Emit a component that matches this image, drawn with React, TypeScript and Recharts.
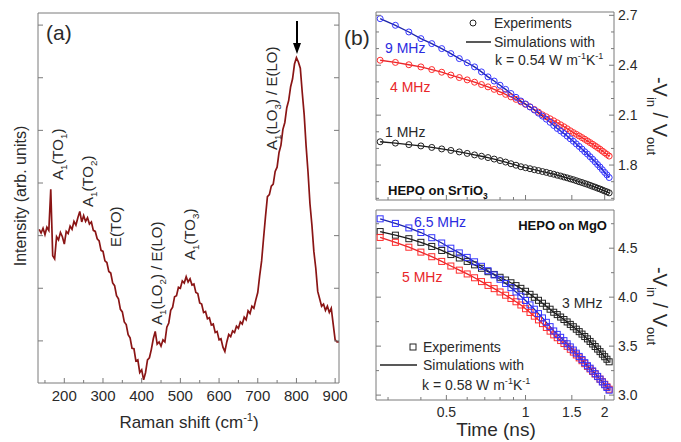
import React from 'react';
import { LineChart, ComposedChart, Line, XAxis, YAxis } from 'recharts';

const FONT = '"Liberation Sans", Arial, Helvetica, sans-serif';
const FRAME = '#7a7a7a';
const TXT = '#2a2a2a';
const BLUE = '#2b2be0';
const RED = '#e8262a';
const BLACK = '#1a1a1a';

// ---------- (a) Raman spectrum ----------
const ramanShift = [
  135, 140, 145, 150, 155, 160, 165, 170, 175, 180,
  185, 190, 195, 200, 205, 210, 215, 220, 225, 230,
  235, 240, 245, 250, 255, 260, 265, 270, 275, 280,
  285, 290, 295, 300, 305, 310, 315, 320, 325, 330,
  335, 340, 345, 350, 355, 360, 365, 370, 375, 380,
  385, 390, 395, 400, 405, 410, 415, 420, 425, 430,
  435, 440, 445, 450, 455, 460, 465, 470, 475, 480,
  485, 490, 495, 500, 505, 510, 515, 520, 525, 530,
  535, 540, 545, 550, 555, 560, 565, 570, 575, 580,
  585, 590, 595, 600, 605, 610, 615, 620, 625, 630,
  635, 640, 645, 650, 655, 660, 665, 670, 675, 680,
  685, 690, 695, 700, 705, 710, 715, 720, 725, 730,
  735, 740, 745, 750, 755, 760, 765, 770, 775, 780,
  785, 790, 795, 800, 805, 810, 815, 820, 825, 830,
  835, 840, 845, 850, 855, 860, 865, 870, 875, 880,
  885, 890, 895, 900, 905, 910,
];
const ramanIntensity = [
  2.12, 2.05, 2.14, 2.02, 2.16, 2.10, 2.88, 1.62, 1.56, 1.98,
  1.92, 2.06, 1.98, 1.84, 2.08, 2.04, 2.18, 2.12, 2.27, 2.20,
  2.34, 2.46, 2.26, 2.38, 2.27, 2.34, 2.22, 2.26, 2.10, 2.08,
  1.94, 1.90, 1.72, 1.70, 1.52, 1.49, 1.32, 1.29, 1.10, 1.05,
  0.86, 0.80, 0.60, 0.55, 0.36, 0.31, 0.12, 0.06, -0.14, -0.15,
  -0.38, -0.36, -0.60, -0.55, -0.74, -0.60, -0.36, -0.32, -0.16, 0.04,
  0.18, -0.06, -0.02, -0.10, 0.02, -0.02, 0.26, 0.34, 0.58, 0.64,
  0.84, 0.86, 1.02, 1.00, 1.14, 1.10, 1.22, 1.12, 1.18, 1.06,
  1.08, 0.92, 0.90, 0.72, 0.70, 0.54, 0.56, 0.42, 0.44, 0.30,
  0.32, 0.16, 0.18, 0.02, 0.04, -0.12, -0.20, -0.02, 0.12, 0.08,
  0.19, 0.16, 0.28, 0.24, 0.36, 0.32, 0.45, 0.40, 0.57, 0.52,
  0.66, 0.62, 0.78, 0.92, 1.24, 1.52, 1.95, 2.36, 2.74, 2.78,
  2.94, 2.98, 3.22, 3.30, 3.58, 3.72, 4.02, 4.15, 4.43, 4.57,
  4.83, 4.98, 5.26, 5.38, 5.30, 5.18, 4.72, 4.30, 3.70, 3.20,
  2.60, 2.20, 1.70, 1.38, 0.94, 0.80, 0.66, 0.70, 0.58, 0.66,
  0.54, 0.62, 0.32, 0.02, -0.02, -0.02,
];
const ramanTicks = [150, 200, 250, 300, 350, 400, 450, 500, 550, 600, 650, 700, 750, 800, 850, 900];
const ramanMajor = [200, 300, 400, 500, 600, 700, 800, 900];
const intensityTicks = [0, 1, 2, 3, 4, 5, 6];

// ---------- (b) time-resolved ratio ----------
const timeNs = [
  0.28, 0.32, 0.36, 0.40, 0.44, 0.48, 0.52, 0.56, 0.60, 0.64,
  0.68, 0.72, 0.76, 0.80, 0.84, 0.88, 0.92, 0.96, 1.00, 1.04,
  1.08, 1.12, 1.16, 1.20, 1.24, 1.28, 1.32, 1.36, 1.40, 1.44,
  1.48, 1.52, 1.56, 1.60, 1.64, 1.68, 1.72, 1.76, 1.80, 1.84,
  1.88, 1.92, 1.96, 2.00, 2.04, 2.08,
];
const srtio9MHz = [
  2.68, 2.64, 2.60, 2.56, 2.53, 2.50, 2.47, 2.44, 2.415, 2.39,
  2.36, 2.33, 2.305, 2.28, 2.255, 2.23, 2.207, 2.185, 2.167, 2.149,
  2.131, 2.112, 2.094, 2.076, 2.057, 2.038, 2.02, 2.005, 1.99, 1.974,
  1.958, 1.943, 1.927, 1.912, 1.896, 1.88, 1.866, 1.85, 1.835, 1.819,
  1.803, 1.788, 1.772, 1.756, 1.741, 1.725,
];
const srtio4MHz = [
  2.43, 2.417, 2.403, 2.39, 2.374, 2.358, 2.341, 2.326, 2.312, 2.298,
  2.284, 2.27, 2.255, 2.24, 2.225, 2.21, 2.195, 2.18, 2.165, 2.15,
  2.134, 2.118, 2.102, 2.09, 2.078, 2.066, 2.054, 2.042, 2.03, 2.018,
  2.006, 1.995, 1.985, 1.975, 1.965, 1.955, 1.945, 1.935, 1.925, 1.915,
  1.905, 1.895, 1.884, 1.874, 1.864, 1.854,
];
const srtio1MHz = [
  1.94, 1.932, 1.923, 1.915, 1.906, 1.897, 1.888, 1.879, 1.87, 1.861,
  1.853, 1.845, 1.836, 1.827, 1.818, 1.808, 1.799, 1.79, 1.784, 1.778,
  1.772, 1.767, 1.761, 1.756, 1.75, 1.745, 1.739, 1.734, 1.728, 1.723,
  1.717, 1.712, 1.706, 1.70, 1.695, 1.689, 1.684, 1.678, 1.672, 1.667,
  1.661, 1.656, 1.65, 1.644, 1.639, 1.633,
];
const mgo65MHz = [
  4.80, 4.753, 4.707, 4.66, 4.607, 4.553, 4.50, 4.452, 4.406, 4.361,
  4.315, 4.27, 4.227, 4.183, 4.14, 4.097, 4.053, 4.01, 3.966, 3.921,
  3.877, 3.832, 3.788, 3.743, 3.699, 3.655, 3.62, 3.59, 3.556, 3.524,
  3.492, 3.46, 3.428, 3.395, 3.363, 3.331, 3.30, 3.275, 3.247, 3.219,
  3.191, 3.163, 3.134, 3.106, 3.078, 3.05,
];
const mgo5MHz = [
  4.61, 4.56, 4.51, 4.46, 4.413, 4.365, 4.318, 4.276, 4.237, 4.198,
  4.159, 4.12, 4.087, 4.053, 4.02, 3.987, 3.953, 3.92, 3.882, 3.844,
  3.806, 3.768, 3.73, 3.691, 3.653, 3.615, 3.586, 3.557, 3.527, 3.498,
  3.468, 3.439, 3.41, 3.38, 3.351, 3.321, 3.293, 3.267, 3.241, 3.215,
  3.189, 3.163, 3.137, 3.111, 3.085, 3.06,
];
const mgo3MHz = [
  4.67, 4.633, 4.597, 4.56, 4.518, 4.477, 4.435, 4.40, 4.365, 4.33,
  4.295, 4.26, 4.232, 4.203, 4.175, 4.147, 4.118, 4.09, 4.06, 4.029,
  3.999, 3.968, 3.938, 3.907, 3.877, 3.846, 3.822, 3.797, 3.772, 3.747,
  3.722, 3.698, 3.673, 3.648, 3.623, 3.598, 3.574, 3.548, 3.522, 3.496,
  3.47, 3.444, 3.418, 3.392, 3.366, 3.34,
];
const timeTicks = [0.3, 0.4, 0.5, 0.6, 0.7, 0.8, 0.9, 1, 1.5, 2];
const timeMajor = [0.5, 1, 1.5, 2];
const srtioTicks = [1.6, 1.7, 1.8, 1.9, 2.0, 2.1, 2.2, 2.3, 2.4, 2.5, 2.6, 2.7];
const srtioMajor = [1.8, 2.1, 2.4, 2.7];
const mgoTicks = [3, 3.25, 3.5, 3.75, 4, 4.25, 4.5, 4.75];
const mgoMajor = [3, 3.5, 4, 4.5];

const ramanData = ramanShift.map((shift, i) => ({ shift, intensity: ramanIntensity[i] }));
const srtioData = timeNs.map((t, i) => ({ t, f9: srtio9MHz[i], f4: srtio4MHz[i], f1: srtio1MHz[i] }));
const mgoData = timeNs.map((t, i) => ({ t, f65: mgo65MHz[i], f5: mgo5MHz[i], f3: mgo3MHz[i] }));

type Side = 'bottom' | 'top' | 'left' | 'right';

// inward ticks, longer on majors, labels only where asked
const tickRenderer =
  (side: Side, majors: number[], fontSize = 0, fmt: (v: number) => string = (v) => String(v)) =>
  (props: any) => {
    const { x, y, payload, index } = props;
    const v = payload.value as number;
    const major = majors.some((m) => Math.abs(m - v) < 1e-6);
    const len = major ? 5 : 3;
    const dx = side === 'left' ? len : side === 'right' ? -len : 0;
    const dy = side === 'top' ? len : side === 'bottom' ? -len : 0;
    return (
      <g key={`${side}-${index}`}>
        <line x1={x} y1={y} x2={x + dx} y2={y + dy} stroke={FRAME} strokeWidth={1} />
        {fontSize > 0 && major && side === 'bottom' && (
          <text x={x} y={y + fontSize + 3} textAnchor="middle" fontSize={fontSize} fill={TXT} fontFamily={FONT}>
            {fmt(v)}
          </text>
        )}
        {fontSize > 0 && major && side === 'right' && (
          <text x={x + 4} y={y + fontSize * 0.36} textAnchor="start" fontSize={fontSize} fill={TXT} fontFamily={FONT}>
            {fmt(v)}
          </text>
        )}
      </g>
    );
  };

// axes are 1px thick so that Recharts still draws them
const axisCommon = {
  tickLine: false,
  tickSize: 0,
  tickMargin: 0,
  interval: 0 as const,
  allowDataOverflow: true,
  axisLine: { stroke: FRAME, strokeWidth: 1 },
};

const openCircle = (color: string) => (p: any) =>
  p.cx == null ? <g key={`n-${p.index}`} /> : (
    <circle key={`c-${p.index}`} cx={p.cx} cy={p.cy} r={3} fill="none" stroke={color} strokeWidth={1} />
  );
const openSquare = (color: string) => (p: any) =>
  p.cx == null ? <g key={`n-${p.index}`} /> : (
    <rect key={`s-${p.index}`} x={p.cx - 3} y={p.cy - 3} width={6} height={6} fill="none" stroke={color} strokeWidth={1} />
  );

type Part = [string, ('sub' | 'sup')?];
const Rich = ({ parts, size }: { parts: Part[]; size: number }) => {
  let shift = 0;
  return (
    <>
      {parts.map(([s, kind], i) => {
        const target = kind === 'sub' ? size * 0.28 : kind === 'sup' ? -size * 0.4 : 0;
        const dy = target - shift;
        shift = target;
        return (
          <tspan key={i} dy={dy} fontSize={kind ? size * 0.65 : size}>
            {s}
          </tspan>
        );
      })}
    </>
  );
};

const modeLabels: { x: number; y: number; parts: Part[] }[] = [
  { x: 58, y: 180, parts: [['A'], ['1', 'sub'], ['(TO'], ['1', 'sub'], [')']] },
  { x: 88, y: 207, parts: [['A'], ['1', 'sub'], ['(TO'], ['2', 'sub'], [')']] },
  { x: 116, y: 247, parts: [['E(TO)']] },
  { x: 157, y: 325, parts: [['A'], ['1', 'sub'], ['(LO'], ['2', 'sub'], [') / E(LO)']] },
  { x: 190, y: 260, parts: [['A'], ['1', 'sub'], ['(TO'], ['3', 'sub'], [')']] },
  { x: 272, y: 150, parts: [['A'], ['1', 'sub'], ['(LO'], ['3', 'sub'], [') / E(LO)']] },
];

const ratioTitle: Part[] = [['-V'], ['in', 'sub'], [' / V'], ['out', 'sub']];

const App: React.FC = () => {
  const fmt1 = (v: number) => v.toFixed(1);
  return (
    <div style={{ position: 'absolute', left: 0, top: 0, width: 681, height: 442, background: '#fff', fontFamily: FONT }}>
      {/* (a) */}
      <div style={{ position: 'absolute', left: 0, top: 0 }}>
        <LineChart width={352} height={442} data={ramanData} margin={{ top: 12, right: 12, bottom: 58, left: 37 }}>
          <XAxis {...axisCommon} dataKey="shift" type="number" domain={[132, 910]} ticks={ramanTicks} height={1}
            tick={tickRenderer('bottom', ramanMajor, 15)} />
          <XAxis {...axisCommon} xAxisId="top" orientation="top" type="number" domain={[132, 910]} ticks={ramanTicks}
            height={1} tick={false} />
          <YAxis {...axisCommon} type="number" domain={[-0.8, 6.23]} ticks={intensityTicks} width={1}
            tick={tickRenderer('left', intensityTicks)} />
          <YAxis {...axisCommon} yAxisId="right" orientation="right" type="number" domain={[-0.8, 6.23]}
            ticks={intensityTicks} width={1} tick={tickRenderer('right', intensityTicks)} />
          <Line dataKey="intensity" stroke="#8a1515" strokeWidth={1.7} dot={false} isAnimationActive={false} />
        </LineChart>
      </div>

      {/* (b) top: SrTiO3 */}
      <div style={{ position: 'absolute', left: 340, top: 0 }}>
        <ComposedChart width={341} height={205} data={srtioData} margin={{ top: 11, right: 66, bottom: 4, left: 35 }}>
          <XAxis {...axisCommon} dataKey="t" type="number" scale="log" domain={[0.27, 2.17]} ticks={timeTicks}
            height={1} tick={tickRenderer('bottom', timeMajor)} />
          <XAxis {...axisCommon} xAxisId="top" orientation="top" type="number" scale="log" domain={[0.27, 2.17]}
            ticks={timeTicks} height={1} tick={tickRenderer('top', timeMajor)} />
          <YAxis {...axisCommon} orientation="right" type="number" domain={[1.59, 2.72]} ticks={srtioTicks} width={1}
            tick={tickRenderer('right', srtioMajor, 14, fmt1)} />
          <YAxis {...axisCommon} yAxisId="left" orientation="left" type="number" domain={[1.59, 2.72]}
            ticks={srtioTicks} width={1} tick={tickRenderer('left', srtioMajor)} />
          <Line dataKey="f1" stroke={BLACK} strokeWidth={1.3} dot={openCircle('#222')} isAnimationActive={false} />
          <Line dataKey="f4" stroke={RED} strokeWidth={1.3} dot={openCircle('#ff2d2d')} isAnimationActive={false} />
          <Line dataKey="f9" stroke="#1c24a8" strokeWidth={1.3} dot={openCircle('#3535ff')} isAnimationActive={false} />
        </ComposedChart>
      </div>

      {/* (b) bottom: MgO */}
      <div style={{ position: 'absolute', left: 340, top: 205 }}>
        <ComposedChart width={341} height={237} data={mgoData} margin={{ top: 4, right: 66, bottom: 41, left: 35 }}>
          <XAxis {...axisCommon} dataKey="t" type="number" scale="log" domain={[0.27, 2.17]} ticks={timeTicks}
            height={1} tick={tickRenderer('bottom', timeMajor, 14)} />
          <XAxis {...axisCommon} xAxisId="top" orientation="top" type="number" scale="log" domain={[0.27, 2.17]}
            ticks={timeTicks} height={1} tick={tickRenderer('top', timeMajor)} />
          <YAxis {...axisCommon} orientation="right" type="number" domain={[2.95, 4.89]} ticks={mgoTicks} width={1}
            tick={tickRenderer('right', mgoMajor, 14, fmt1)} />
          <YAxis {...axisCommon} yAxisId="left" orientation="left" type="number" domain={[2.95, 4.89]}
            ticks={mgoTicks} width={1} tick={tickRenderer('left', mgoMajor)} />
          <Line dataKey="f3" stroke={BLACK} strokeWidth={1.3} dot={openSquare('#222')} isAnimationActive={false} />
          <Line dataKey="f5" stroke={RED} strokeWidth={1.3} dot={openSquare('#ff2d2d')} isAnimationActive={false} />
          <Line dataKey="f65" stroke="#1c24a8" strokeWidth={1.3} dot={openSquare('#3535ff')} isAnimationActive={false} />
        </ComposedChart>
      </div>

      {/* text overlay */}
      <svg width={681} height={442} style={{ position: 'absolute', left: 0, top: 0, pointerEvents: 'none' }}
        fontFamily={FONT}>
        <text x={46} y={40} fontSize={21} fill={TXT}>(a)</text>
        <text x={344} y={45} fontSize={21} fill={TXT}>(b)</text>

        {modeLabels.map((m, i) => (
          <text key={i} transform={`translate(${m.x},${m.y}) rotate(-90)`} y={15 * 0.35} fontSize={15} fill={TXT}>
            <Rich parts={m.parts} size={15} />
          </text>
        ))}
        <line x1={297} y1={21} x2={297} y2={45} stroke="#000" strokeWidth={2} />
        <polygon points="297,54 293,43 301,43" fill="#000" />

        <text transform="translate(20,196) rotate(-90)" y={16 * 0.35} textAnchor="middle" fontSize={16} fill={TXT}>
          Intensity (arb. units)
        </text>
        <text x={189} y={428} textAnchor="middle" fontSize={17} fill={TXT}>
          <Rich parts={[['Raman shift (cm'], ['-1', 'sup'], [')']]} size={17} />
        </text>
        <text x={496} y={436} textAnchor="middle" fontSize={19} fill={TXT}>Time (ns)</text>

        <g transform="translate(660,116) rotate(90)">
          <text x={0} y={7} textAnchor="middle" fontSize={20} fill={TXT}>
            <Rich parts={ratioTitle} size={20} />
          </text>
        </g>
        <g transform="translate(660,306) rotate(90)">
          <text x={0} y={7} textAnchor="middle" fontSize={20} fill={TXT}>
            <Rich parts={ratioTitle} size={20} />
          </text>
        </g>

        {/* top panel legend + labels */}
        <circle cx={473} cy={23} r={3} fill="none" stroke="#222" strokeWidth={1} />
        <text x={494} y={28} fontSize={14} fill={TXT}>Experiments</text>
        <line x1={466} y1={42} x2={491} y2={42} stroke="#222" strokeWidth={1.5} />
        <text x={494} y={47} fontSize={14} fill={TXT}>Simulations with</text>
        <text x={495} y={65} fontSize={14} fill={TXT}>
          <Rich parts={[['k = 0.54 W m'], ['-1', 'sup'], ['K'], ['-1', 'sup']]} size={14} />
        </text>
        <text x={385} y={53} fontSize={14} fill={BLUE}>9 MHz</text>
        <text x={390} y={92} fontSize={14} fill={RED}>4 MHz</text>
        <text x={385} y={137} fontSize={14} fill={TXT}>1 MHz</text>
        <text x={388} y={195} fontSize={13} fontWeight="bold" fill="#111">
          <Rich parts={[['HEPO on SrTiO'], ['3', 'sub']]} size={13} />
        </text>

        {/* bottom panel legend + labels */}
        <rect x={410} y={344} width={6} height={6} fill="none" stroke="#222" strokeWidth={1} />
        <text x={423} y={352} fontSize={14} fill={TXT}>Experiments</text>
        <line x1={380} y1={365} x2={417} y2={365} stroke="#222" strokeWidth={1.5} />
        <text x={423} y={370} fontSize={14} fill={TXT}>Simulations with</text>
        <text x={422} y={390} fontSize={14} fill={TXT}>
          <Rich parts={[['k = 0.58 W m'], ['-1', 'sup'], ['K'], ['-1', 'sup']]} size={14} />
        </text>
        <text x={414} y={227} fontSize={14} fill={BLUE}>6.5 MHz</text>
        <text x={402} y={282} fontSize={14} fill={RED}>5 MHz</text>
        <text x={562} y={308} fontSize={14} fill={TXT}>3 MHz</text>
        <text x={607} y={230} textAnchor="end" fontSize={13} fontWeight="bold" fill="#111">HEPO on MgO</text>
      </svg>
    </div>
  );
};

export default App;
